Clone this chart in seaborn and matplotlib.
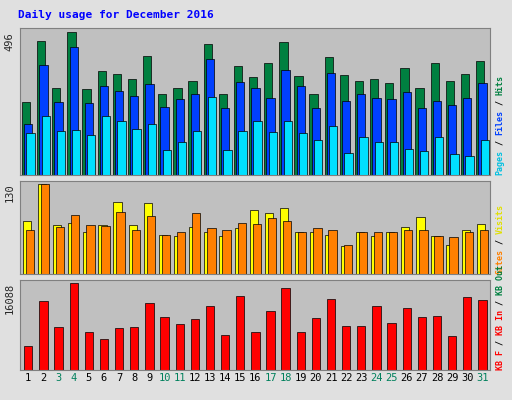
import matplotlib
matplotlib.use("Agg")
import matplotlib.pyplot as plt
import seaborn as sns
import pandas as pd
import numpy as np

days = list(range(1, 32))
hits = [253,465,301,496,298,363,352,335,414,281,301,325,455,281,380,342,390,462,345,281,410,349,328,332,321,373,301,390,325,352,397]
files = [178,383,253,445,250,308,291,274,315,236,263,281,404,233,322,301,267,366,308,233,356,256,281,267,263,287,233,256,243,267,318]
pages = [147,205,154,157,140,205,188,161,178,86,116,154,270,86,154,188,150,188,147,120,171,75,133,116,116,92,82,133,72,65,120]
visits = [77,130,70,74,60,70,104,70,102,56,54,67,60,54,66,92,88,95,60,60,56,41,60,54,60,67,82,54,42,63,72]
sites = [63,130,67,85,70,69,89,64,83,56,61,88,66,63,73,72,80,77,61,66,64,42,61,61,61,64,64,54,53,60,64]
kbytes = [4405,12640,7852,16088,7086,5746,7660,7852,12257,9768,8427,9385,11874,6512,13598,7086,10917,15130,7086,9576,13023,8044,8044,11874,8618,11491,9768,9959,6320,13406,12832]
weekend = {3,4,10,11,17,18,24,25,31}

sns.set_style("white")
plt.rcParams['font.family'] = ['DejaVu Sans Mono', 'DejaVu Sans']
fig = plt.figure(figsize=(5.12, 4.0), dpi=100, facecolor="#e0e0e0")
L, W = 0.039, 0.918
ax1 = fig.add_axes([L, 0.5625, W, 0.3675])
ax2 = fig.add_axes([L, 0.315, W, 0.2325])
ax3 = fig.add_axes([L, 0.075, W, 0.225])

def bars(ax, vals, off, color, w):
    df = pd.DataFrame({"x": np.array(days) + off, "y": vals})
    sns.barplot(data=df, x="x", y="y", native_scale=True, color=color,
                width=w, edgecolor="black", linewidth=0.5, ax=ax, saturation=1)

bars(ax1, hits, -0.15, "#008040", 0.55)
bars(ax1, files, 0.0, "#0040ff", 0.55)
bars(ax1, pages, 0.15, "#00e0ff", 0.55)
bars(ax2, visits, -0.1, "#ffff00", 0.55)
bars(ax2, sites, 0.1, "#ff8000", 0.55)
bars(ax3, kbytes, 0.0, "#ff0000", 0.55)

for ax, top, lab in [(ax1, 496, "496"), (ax2, 130, "130"), (ax3, 16088, "16088")]:
    ax.set_facecolor("#c0c0c0")
    ax.set_xlim(0.45, 31.5)
    ax.set_ylim(0, top * 1.03)
    ax.set_xticks([]); ax.set_yticks([])
    ax.set_xlabel(""); ax.set_ylabel("")
    for s in ax.spines.values():
        s.set_color("#808080")
    ax.text(-0.012, top / (top * 1.03), lab, transform=ax.transAxes, rotation=90,
            ha="right", va="top", fontsize=7.5)

for d in days:
    ax3.text(d, -0.03, str(d), transform=ax3.get_xaxis_transform(), ha="center", va="top",
             fontsize=7.5, color="#00805c" if d in weekend else "black")

fig.text(0.035, 0.975, "Daily usage for December 2016", color="#0000ff",
         fontsize=8, fontweight="bold", va="top")

FS = 6
CH = FS * 0.602 * 100 / 72  # char advance in pixels
def side(ax, parts):
    hpx = ax.get_position().height * 400
    y = 0.0
    for txt, col in parts:
        ax.text(1.012, y, txt, transform=ax.transAxes, rotation=90, ha="left",
                va="bottom", fontsize=FS, color=col, fontweight="bold")
        y += len(txt) * CH / hpx
side(ax1, [("Pages", "#00c0e0"), (" / ", "#000000"), ("Files", "#0040ff"), (" / ", "#000000"), ("Hits", "#008040")])
side(ax2, [("Sites", "#ff8000"), (" / ", "#000000"), ("Visits", "#e0e000")])
side(ax3, [("KB F", "#ff0000"), (" / ", "#000000"), ("KB In", "#ff0000"), (" / ", "#000000"), ("KB Out", "#008040")])

fig.savefig("out.png", dpi=100, facecolor=fig.get_facecolor())
